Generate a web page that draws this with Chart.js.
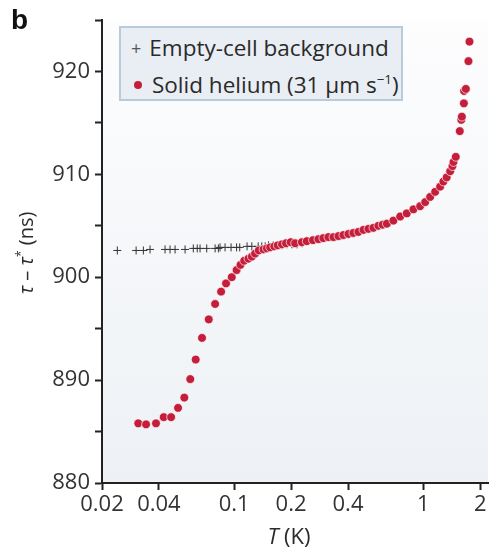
<!DOCTYPE html>
<html>
<head>
<meta charset="utf-8">
<script src="https://cdn.jsdelivr.net/npm/chart.js@4/dist/chart.umd.min.js"></script>
<style>
    html, body { margin: 0; padding: 0; background: #fff; }
    #wrap { position: relative; width: 500px; height: 555px; font-family: 'Open Sans', sans-serif; color: #2a2a2a; }
    #chart { position: absolute; left: 0; top: 0; }
    .panel { position: absolute; left: 11px; top: 4px; font: bold 28px 'Liberation Sans', Arial, sans-serif; color: #111; }
    .legend { position: absolute; left: 119px; top: 26px; width: 284px; height: 75px; box-sizing: border-box;
              background: #e8eef4; border: 2px solid #b9cad9; font-size: 22.5px; line-height: 31px; padding: 4px 0 0 10px; }
    .legend .row { white-space: nowrap; }
    .legend .dot { display: inline-block; width: 8px; height: 8px; border-radius: 50%; background: #c41e3a; margin: 0 10px 3px 3px; vertical-align: middle; }
    .legend .plus { font-size: 18px; color: #555; margin: 0 8px 0 0; vertical-align: 1px; }
    .ytitle { position: absolute; left: 25px; top: 253px; transform: translate(-50%, -50%) rotate(-90deg); font-size: 20px; white-space: nowrap; }
    .xtitle { position: absolute; left: 289px; top: 520px; transform: translateX(-50%); font-size: 22px; white-space: nowrap; }
    sup { font-size: 0.6em; }
</style>
</head>
<body>
<div id="wrap">
    <canvas id="chart" width="500" height="555"></canvas>
    <div class="panel">b</div>
    <div class="legend">
        <div class="row"><span class="plus">+</span>Empty-cell background</div>
        <div class="row"><span class="dot"></span>Solid helium (31 µm s<sup>−1</sup>)</div>
    </div>
    <div class="ytitle"><i>τ</i> – <i>τ</i><sup>*</sup> (ns)</div>
    <div class="xtitle"><i>T</i> (K)</div>
</div>
<script>
// ---- data ----
const xTickValues = [0.02, 0.04, 0.1, 0.2, 0.4, 1, 2];
const xTickLabels = ['0.02', '0.04', '0.1', '0.2', '0.4', '1', '2'];

// empty-cell background (crosses)
const bgTemp = [0.0241, 0.0303, 0.0331, 0.0359, 0.0431, 0.0458, 0.0487, 0.055, 0.0608, 0.0638,
    0.066, 0.0716, 0.0793, 0.0825, 0.0842, 0.0895, 0.0963, 0.103, 0.107, 0.117,
    0.124, 0.134, 0.140, 0.146, 0.152, 0.161, 0.171, 0.179, 0.190, 0.202, 0.215, 0.229];
const bgTau = [902.6, 902.6, 902.6, 902.7, 902.7, 902.7, 902.7, 902.7, 902.8, 902.8,
    902.8, 902.8, 902.8, 902.8, 902.9, 902.9, 902.9, 902.9, 902.9, 903.0,
    903.0, 903.0, 903.0, 903.0, 903.1, 903.1, 903.1, 903.1, 903.2, 903.2, 903.2, 903.3];

// solid helium (red dots)
const heTemp = [0.0311, 0.0342, 0.0386, 0.0424, 0.0464, 0.0505, 0.0545, 0.0586, 0.0626, 0.0676,
    0.0734, 0.0793, 0.0853, 0.0906, 0.0971, 0.103, 0.108, 0.113, 0.119, 0.124,
    0.129, 0.135, 0.143, 0.149, 0.155, 0.163, 0.170, 0.179, 0.188, 0.199,
    0.210, 0.228, 0.242, 0.261, 0.279, 0.296, 0.315, 0.335, 0.356, 0.378,
    0.402, 0.427, 0.454, 0.483, 0.513, 0.545, 0.579, 0.61, 0.642, 0.695,
    0.755, 0.818, 0.887, 0.963, 1.024, 1.088, 1.156, 1.228, 1.278, 1.33,
    1.388, 1.427, 1.445, 1.486, 1.56, 1.59, 1.60, 1.64, 1.645, 1.68, 1.734, 1.756];
const heTau = [885.8, 885.7, 885.8, 886.4, 886.4, 887.3, 888.3, 890.1, 892.0, 894.1,
    895.9, 897.4, 898.6, 899.4, 900.0, 900.7, 901.2, 901.6, 901.8, 902.0,
    902.3, 902.6, 902.7, 902.8, 902.9, 903.0, 903.1, 903.2, 903.3, 903.4,
    903.3, 903.4, 903.5, 903.6, 903.7, 903.8, 903.9, 903.9, 904.0, 904.1,
    904.2, 904.3, 904.4, 904.6, 904.7, 904.8, 905.0, 905.1, 905.2, 905.5,
    905.9, 906.2, 906.6, 906.9, 907.3, 907.8, 908.3, 908.8, 909.3, 909.7,
    910.3, 910.8, 911.2, 911.7, 914.2, 915.3, 915.6, 916.9, 918.1, 918.3, 921.0, 922.9];

const toPoints = (xs, ys) => xs.map((x, i) => ({ x: x, y: ys[i] }));

// plot-area gradient background
const plotBackground = {
    id: 'plotBackground',
    beforeDraw(chart) {
        const { ctx, chartArea: a } = chart;
        const g = ctx.createLinearGradient(0, a.top, 0, a.bottom);
        g.addColorStop(0, '#fdfdfe');
        g.addColorStop(1, '#edf1f5');
        ctx.save();
        ctx.fillStyle = g;
        ctx.fillRect(a.left, a.top, a.right - a.left, a.bottom - a.top);
        ctx.restore();
    }
};

Chart.defaults.font.family = "'Open Sans', sans-serif";
Chart.defaults.color = '#333';

new Chart(document.getElementById('chart'), {
    type: 'scatter',
    data: {
        datasets: [
            {
                label: 'Solid helium',
                data: toPoints(heTemp, heTau),
                pointStyle: 'circle',
                pointRadius: 4.4,
                backgroundColor: '#c41e3a',
                borderColor: 'rgba(255,255,255,0.85)',
                borderWidth: 0.8,
                order: 0
            },
            {
                label: 'Empty-cell background',
                data: toPoints(bgTemp, bgTau),
                pointStyle: 'cross',
                pointRadius: 4,
                borderColor: '#333',
                borderWidth: 1,
                order: 1
            }
        ]
    },
    options: {
        responsive: false,
        animation: false,
        layout: { padding: { left: 0, right: 12, top: 20, bottom: 0 } },
        plugins: {
            legend: { display: false },
            tooltip: { enabled: false }
        },
        scales: {
            x: {
                type: 'logarithmic',
                min: 0.02,
                max: 2.2,
                afterBuildTicks: (scale) => {
                    scale.ticks = xTickValues.map(v => ({ value: v }));
                },
                afterFit: (scale) => { scale.height = 72; },
                grid: { drawOnChartArea: false, drawTicks: true, tickLength: 7, tickColor: '#222', tickWidth: 2 },
                border: { display: true, color: '#222', width: 2 },
                ticks: {
                    autoSkip: false,
                    maxRotation: 0,
                    padding: 2,
                    color: '#333',
                    font: { size: 22 },
                    callback: (value) => {
                        const i = xTickValues.indexOf(value);
                        return i >= 0 ? xTickLabels[i] : '';
                    }
                }
            },
            y: {
                min: 880,
                max: 925,
                afterFit: (scale) => { scale.width = 102; },
                grid: { drawOnChartArea: false, drawTicks: true, tickLength: 7, tickColor: '#222', tickWidth: 2 },
                border: { display: true, color: '#222', width: 2 },
                ticks: {
                    stepSize: 5,
                    padding: 5,
                    color: '#333',
                    font: { size: 22 },
                    callback: (value) => (value % 10 === 0 ? String(value) : '')
                }
            }
        }
    },
    plugins: [plotBackground]
});
</script>
</body>
</html>
